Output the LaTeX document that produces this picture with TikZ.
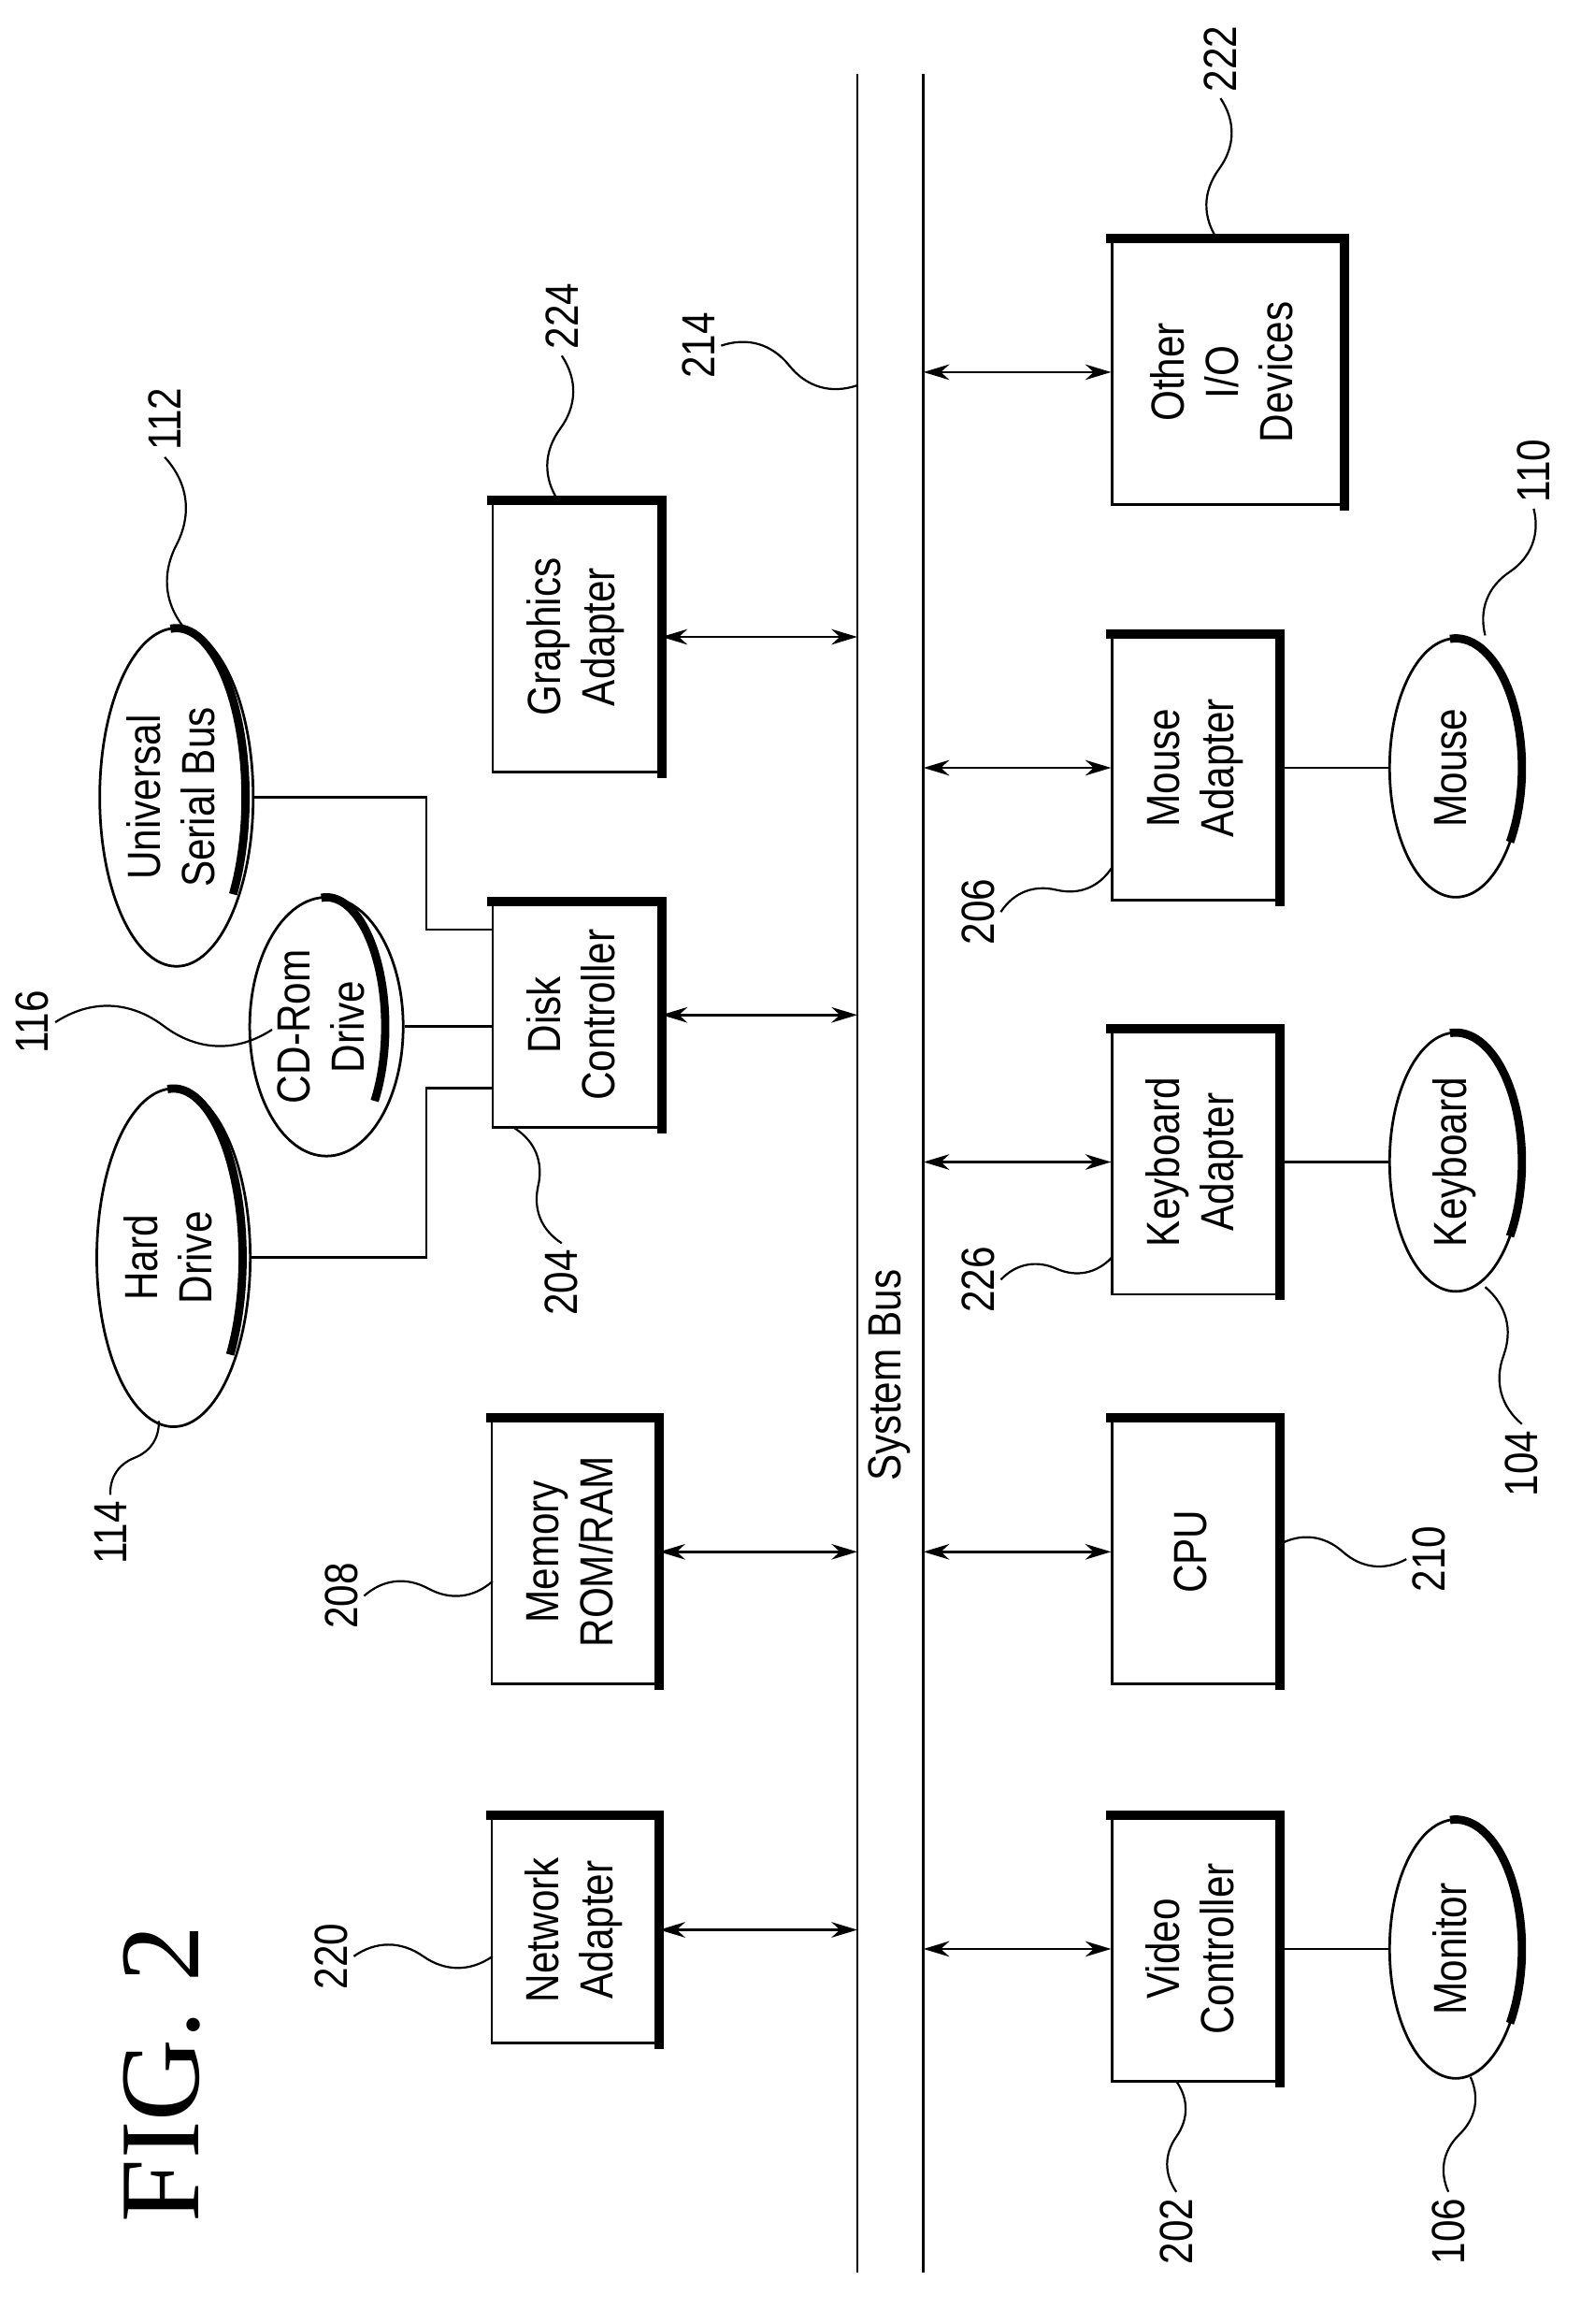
\documentclass[tikz,border=0pt]{standalone}
\usepackage{fontspec}
\setmainfont{Liberation Sans}[FakeStretch=0.85]
\newfontfamily\figfont{Liberation Serif}
\usetikzlibrary{shapes.geometric,arrows.meta,calc}
\begin{document}
\begin{tikzpicture}[x=0.02cm,y=-0.02cm,line width=1pt,
  box/.style={draw,rectangle,inner sep=0pt,font=\fontsize{18}{21}\selectfont},
  ell/.style={draw,ellipse,inner sep=0pt,font=\fontsize{18}{21}\selectfont},
  shad/.style={line width=3.6pt,line cap=rect},
  arr/.style={{Stealth[length=10pt,width=6pt]}-{Stealth[length=10pt,width=6pt]}},
  lab/.style={inner sep=2pt,font=\fontsize{18}{21}\selectfont},
  ld/.style={line width=0.8pt}]
\useasboundingbox (0,0) rectangle (1075,1580);
\newcommand\bx[6]{\node[box,minimum width=#4*0.02cm,minimum height=#5*0.02cm] (#1) at (#2,#3) {\rotatebox{90}{\begin{tabular}{@{}c@{}}#6\end{tabular}}};
  \draw[shad] (#1.north west) -- (#1.north east) -- (#1.south east);}
\newcommand\el[6]{\node[ell,minimum width=#4*0.04cm,minimum height=#5*0.04cm] (#1) at (#2,#3) {\rotatebox{90}{\begin{tabular}{@{}c@{}}#6\end{tabular}}};
  \draw[line width=3.2pt] plot[domain=-35:95,samples=40] ({#2+#4*cos(\x)},{#3-#5*sin(\x)});}
\newcommand\lb[3]{\node[lab] (#1) at (#2) {\rotatebox{90}{#3}};}
\newcommand\lead[2]{\draw[ld] (#1) to[bend left=35] ($(#1)!.5!(#2)$) to[bend right=35] (#2);}
% bus
\coordinate (bl1) at (583,50); \coordinate (bl2) at (583,1545);
\coordinate (br1) at (628,50); \coordinate (br2) at (628,1545);
\draw (bl1) -- (bl2); \draw (br1) -- (br2);
\node[lab] (sb) at (605,935) {\rotatebox{90}{System Bus}};
% boxes
\bx{na}{391}{1312}{113}{154}{Network\\Adapter}
\bx{mem}{391}{1055}{113}{180}{Memory\\ROM/RAM}
\bx{dc}{392}{690}{114}{153}{Disk\\Controller}
\bx{ga}{392}{433}{114}{184}{Graphics\\Adapter}
\bx{vc}{813}{1325}{113}{180}{Video\\Controller}
\bx{cpu}{813}{1055}{113}{180}{CPU}
\bx{ka}{813}{790}{113}{180}{Keyboard\\Adapter}
\bx{ma}{813}{522}{113}{180}{Mouse\\Adapter}
\bx{io}{835}{253}{157}{180}{Other\\I/O\\Devices}
% arrows
\foreach \b in {na,mem,dc,ga} \draw[arr] (\b.east) -- (\b.east -| bl1);
\foreach \b in {vc,cpu,ka,ma,io} \draw[arr] (\b.west -| br1) -- (\b.west);
% ellipses
\el{mon}{990}{1325}{45}{88}{Monitor}
\el{kb}{990}{790}{45}{88}{Keyboard}
\el{mou}{990}{522}{45}{88}{Mouse}
\el{hd}{118}{855}{47}{115}{Hard\\Drive}
\el{cd}{222}{698}{40}{88}{CD-Rom\\Drive}
\el{usb}{120}{542}{47}{115}{Universal\\Serial Bus}
\draw (vc.east) -- (mon.west);
\draw (ka.east) -- (kb.west);
\draw (ma.east) -- (mou.west);
\draw (hd.east) -- (290,855) -- (290,740) -- (dc.west |- {(290,740)});
\draw (cd.east) -- (dc.west |- cd.east);
\draw (usb.east) -- (290,542) -- (290,632) -- (dc.west |- {(290,632)});
% labels
\lb{l112}{112,285}{112} \coordinate (t112) at (128,430); \lead{l112.south}{t112}
\lb{l116}{22,695}{116} \coordinate (t116) at (185,700); \lead{l116.east}{t116}
\lb{l114}{75,1042}{114} \coordinate (t114) at (108,966); \lead{l114.north}{t114}
\lb{l208}{232,1085}{208} \coordinate (t208) at (335,1075); \lead{l208.east}{t208}
\lb{l204}{382,872}{204} \coordinate (t204) at (350,767); \lead{l204.north}{t204}
\lb{l220}{225,1330}{220} \coordinate (t220) at (335,1330); \lead{l220.east}{t220}
\lb{l224}{382,215}{224} \coordinate (t224) at (380,341); \lead{l224.south}{t224}
\lb{l214}{475,235}{214} \coordinate (t214) at (583,262); \lead{l214.east}{t214}
\lb{l222}{830,40}{222} \coordinate (t222) at (828,163); \lead{l222.south}{t222}
\lb{l110}{1043,320}{110} \coordinate (t110) at (1010,432); \lead{l110.south}{t110}
\lb{l206}{665,620}{206} \coordinate (t206) at (756,590); \lead{l206.east}{t206}
\lb{l226}{665,870}{226} \coordinate (t226) at (756,855); \lead{l226.east}{t226}
\lb{l210}{972,1060}{210} \coordinate (t210) at (870,1050); \lead{l210.west}{t210}
\lb{l104}{1035,995}{104} \coordinate (t104) at (1010,875); \lead{l104.north}{t104}
\lb{l202}{800,1517}{202} \coordinate (t202) at (800,1415); \lead{l202.north}{t202}
\lb{l106}{985,1517}{106} \coordinate (t106) at (1000,1412); \lead{l106.north}{t106}
\node[inner sep=0pt,font=\figfont\fontsize{44}{48}\selectfont] (fig) at (110,1410) {\rotatebox{90}{FIG. 2}};
\end{tikzpicture}
\end{document}
